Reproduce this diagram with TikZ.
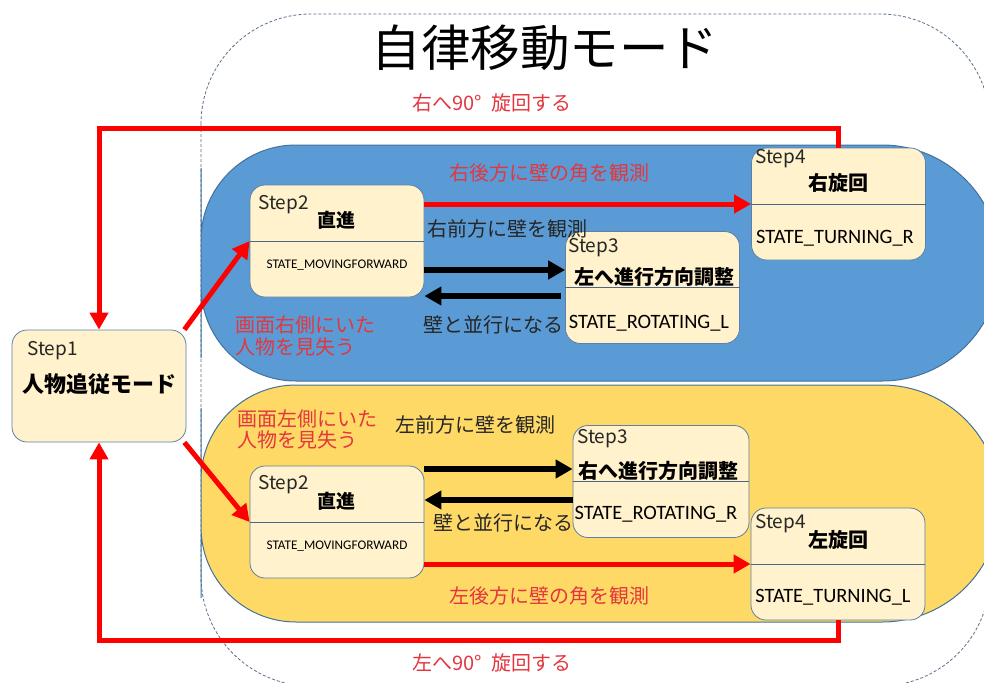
\documentclass[tikz,border=0pt]{standalone}
\usepackage{fontspec}
\setmainfont{Noto Sans CJK JP}
\newfontfamily\calfont{Carlito}
\usetikzlibrary{arrows.meta}
\definecolor{boxfill}{HTML}{FFF2CC}
\definecolor{boxline}{HTML}{5E7FA6}
\definecolor{regblue}{HTML}{5B9BD5}
\definecolor{regyellow}{HTML}{FFD966}
\definecolor{regline}{HTML}{41719C}
\definecolor{outline}{HTML}{5A6F8C}
\definecolor{arrred}{HTML}{FF0000}
\definecolor{txtred}{HTML}{E2373F}
\definecolor{txtdark}{HTML}{262626}
\tikzset{
  sbox/.style={draw=boxline, fill=boxfill, line width=0.8pt, rounded corners=15pt,
    minimum width=174pt, minimum height=112pt, inner sep=0pt},
  divline/.style={draw=boxline!80!black, line width=0.8pt},
  region/.style={draw=regline, line width=1pt},
  redarr/.style={draw=arrred, line width=5pt, -{Triangle[length=17pt,width=18pt]}},
  blkarr/.style={draw=black, line width=6pt, -{Triangle[length=17pt,width=18pt]}},
  steplbl/.style={inner sep=0pt, anchor=west, text=txtdark, font=\fontsize{19}{22}\selectfont},
  titlelbl/.style={inner sep=0pt, text=black, font=\bfseries\fontsize{20}{24}\selectfont},
  statelbl/.style={inner sep=0pt, text=black, font=\calfont\fontsize{20.4}{24}\selectfont},
  redlbl/.style={inner sep=0pt, text=txtred, font=\fontsize{20}{22}\selectfont},
  darklbl/.style={inner sep=0pt, anchor=west, text=txtdark, font=\fontsize{20}{22}\selectfont},
}
\begin{document}
\begin{tikzpicture}[x=1pt,y=-1pt]
\useasboundingbox (0,0) rectangle (984,682);
\clip (0,0) rectangle (984,682);
% outer dashed mode frame
\draw[draw=outline, line width=0.8pt, dash pattern=on 3pt off 2pt, rounded corners=110pt]
  (201,14) rectangle (990,686);
\node[inner sep=0pt, font=\fontsize{49.5}{56}\selectfont] (title) at (545,48) {自律移動モード};
% regions
\path[region, fill=regblue] (201,263) [rounded corners=95pt] -- (201,145)
  [rounded corners=118pt] -- (1000,145) -- (1000,381)
  [rounded corners=95pt] -- (201,381) -- cycle;
\path[region, fill=regyellow] (201,503) [rounded corners=95pt] -- (201,385)
  [rounded corners=118pt] -- (1000,385) -- (1000,622)
  [rounded corners=95pt] -- (201,622) -- cycle;
% state boxes
\node[sbox] (s1) at (99,386) {};
\node[sbox] (s2t) at (337,241) {};
\node[sbox] (s3t) at (652.5,287.5) {};
\node[sbox] (s4t) at (838.5,204) {};
\node[sbox] (s2b) at (337,522) {};
\node[sbox, minimum width=176pt] (s3b) at (661,481.5) {};
\node[sbox] (s4b) at (838,564) {};
\foreach \b in {s2t,s3t,s4t,s2b,s3b,s4b} {\draw[divline] (\b.west) -- (\b.east);}
% connectors
\coordinate (topy) at (0,128);
\coordinate (boty) at (0,640);
\draw[redarr] (s4t.north) -- (s4t.north |- topy) -| (s1.north);
\draw[redarr] (s4b.south) -- (s4b.south |- boty) -| (s1.south);
\draw[redarr] ([xshift=-2pt]s1.north east) -- (s2t.west);
\draw[redarr] ([xshift=-2pt]s1.south east) -- (s2b.west);
\draw[redarr] (s2t.east |- s4t.west) -- (s4t.west);
\draw[redarr] (s2b.east |- s4b.west) -- (s4b.west);
\draw[blkarr] (s2t.east |- 0,270) -- (s3t.west |- 0,270);
\draw[blkarr] ([xshift=-4pt]s3t.west |- 0,296) -- (s2t.east |- 0,296);
\draw[blkarr] (s2b.east |- 0,469) -- (s3b.west |- 0,469);
\draw[blkarr] (s3b.west |- 0,500) -- (s2b.east |- 0,500);
% box texts
\node[steplbl] (s1a) at (27,351) {Step1};
\node[titlelbl, font=\bfseries\fontsize{22}{26}\selectfont] (s1b) at (99,384) {人物追従モード};
\node[steplbl] (s2ta) at (258,205) {Step2};
\node[titlelbl, font=\bfseries\fontsize{19}{22}\selectfont] (s2tb) at (336,220) {直進};
\node[statelbl, font=\calfont\fontsize{13.2}{15}\selectfont] (s2tc) at (337,265) {STATE\_MOVINGFORWARD};
\node[steplbl] (s3ta) at (568,248) {Step3};
\node[titlelbl] (s3tb) at (654,277) {左へ進行方向調整};
\node[statelbl] (s3tc) at (649,323) {STATE\_ROTATING\_L};
\node[steplbl] (s4ta) at (755,159) {Step4};
\node[titlelbl] (s4tb) at (838,183) {右旋回};
\node[statelbl] (s4tc) at (835,238) {STATE\_TURNING\_R};
\node[steplbl] (s2ba) at (258,485) {Step2};
\node[titlelbl, font=\bfseries\fontsize{19}{22}\selectfont] (s2bb) at (336,501) {直進};
\node[statelbl, font=\calfont\fontsize{13.2}{15}\selectfont] (s2bc) at (337,546) {STATE\_MOVINGFORWARD};
\node[steplbl] (s3ba) at (577,439) {Step3};
\node[titlelbl] (s3bb) at (658,471) {右へ進行方向調整};
\node[statelbl] (s3bc) at (656,514) {STATE\_ROTATING\_R};
\node[steplbl] (s4ba) at (755,524) {Step4};
\node[titlelbl] (s4bb) at (838,540) {左旋回};
\node[statelbl] (s4bc) at (833,597) {STATE\_TURNING\_L};
% labels
\node[redlbl] (lr90) at (492,103) {右へ90°\ \ 旋回する};
\node[redlbl] (ll90) at (492,663) {左へ90°\ \ 旋回する};
\node[redlbl] (lrback) at (549,173) {右後方に壁の角を観測};
\node[redlbl] (llback) at (549,596) {左後方に壁の角を観測};
\node[darklbl] (lrfront) at (427,229) {右前方に壁を観測};
\node[darklbl] (lrpar) at (423,325) {壁と並行になる};
\node[darklbl] (llfront) at (395,424.5) {左前方に壁を観測};
\node[darklbl] (llpar) at (433,523) {壁と並行になる};
\node[redlbl, anchor=west, align=left, font=\fontsize{20}{21.5}\selectfont] (lrlost) at (235,336) {画面右側にいた\\人物を見失う};
\node[redlbl, anchor=west, align=left, font=\fontsize{20}{21.5}\selectfont] (lllost) at (237,429.5) {画面左側にいた\\人物を見失う};
\end{tikzpicture}
\end{document}
